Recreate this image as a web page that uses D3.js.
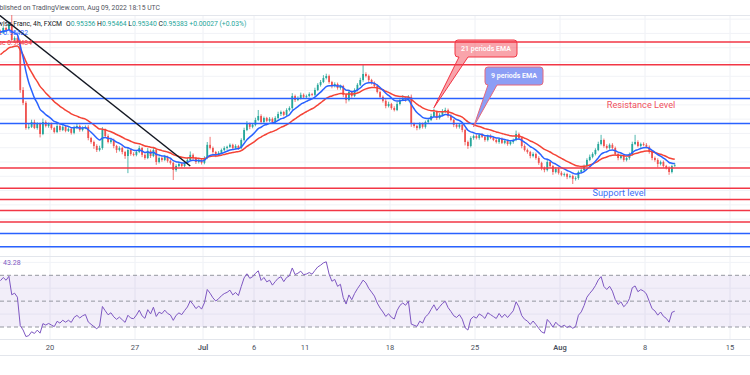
<!DOCTYPE html>
<html>
<head>
<meta charset="utf-8">
<script src="https://cdn.jsdelivr.net/npm/d3@7"></script>
<style>
  body { margin: 0; background: #fff; }
  svg { display: block; font-family: Roboto, 'Liberation Sans', sans-serif; }
</style>
</head>
<body>
<svg id="chart" width="750" height="375"></svg>
<script>
// USD/CHF 4h, FXCM, 15 Jun - 9 Aug 2022 (six 4h bars per trading day)
const tradingDays = [
  '2022-06-15', '2022-06-16', '2022-06-17',
  '2022-06-20', '2022-06-21', '2022-06-22', '2022-06-23', '2022-06-24',
  '2022-06-27', '2022-06-28', '2022-06-29', '2022-06-30', '2022-07-01',
  '2022-07-04', '2022-07-05', '2022-07-06', '2022-07-07', '2022-07-08',
  '2022-07-11', '2022-07-12', '2022-07-13', '2022-07-14', '2022-07-15',
  '2022-07-18', '2022-07-19', '2022-07-20', '2022-07-21', '2022-07-22',
  '2022-07-25', '2022-07-26', '2022-07-27', '2022-07-28', '2022-07-29',
  '2022-08-01', '2022-08-02', '2022-08-03', '2022-08-04', '2022-08-05',
  '2022-08-08', '2022-08-09', '2022-08-10', '2022-08-11', '2022-08-12',
  '2022-08-15', '2022-08-16'
]

const tickDays = ['2022-06-20', '2022-06-27', '2022-07-01', '2022-07-06', '2022-07-11',
  '2022-07-18', '2022-07-25', '2022-08-01', '2022-08-08', '2022-08-15']
const tickLabels = ['20', '27', 'Jul', '6', '11', '18', '25', 'Aug', '8', '15']

const firstOpen = 1.0005
const closes = [
  1.0002, 1.0019, 1.0012, 1.0033, 0.9977, 0.9984, // Jun 15
  0.9970, 0.9802, 0.9757, 0.9669, 0.9673, 0.9690, // Jun 16
  0.9669, 0.9683, 0.9648, 0.9690, 0.9676, 0.9683, // Jun 17
  0.9669, 0.9655, 0.9676, 0.9662, 0.9673, 0.9659, // Jun 20
  0.9666, 0.9652, 0.9669, 0.9676, 0.9662, 0.9669, // Jun 21
  0.9673, 0.9634, 0.9620, 0.9606, 0.9592, 0.9599, // Jun 22
  0.9662, 0.9641, 0.9620, 0.9627, 0.9606, 0.9592, // Jun 23
  0.9599, 0.9585, 0.9571, 0.9592, 0.9578, 0.9575, // Jun 24
  0.9585, 0.9599, 0.9575, 0.9564, 0.9589, 0.9571, // Jun 27
  0.9592, 0.9550, 0.9564, 0.9557, 0.9568, 0.9554, // Jun 28
  0.9547, 0.9522, 0.9536, 0.9543, 0.9536, 0.9547, // Jun 29
  0.9557, 0.9575, 0.9564, 0.9550, 0.9557, 0.9547, // Jun 30
  0.9564, 0.9610, 0.9599, 0.9585, 0.9575, 0.9582, // Jul 1
  0.9592, 0.9599, 0.9603, 0.9610, 0.9599, 0.9606, // Jul 4
  0.9599, 0.9627, 0.9662, 0.9683, 0.9673, 0.9680, // Jul 5
  0.9697, 0.9711, 0.9690, 0.9704, 0.9694, 0.9701, // Jul 6
  0.9690, 0.9704, 0.9718, 0.9725, 0.9715, 0.9732, // Jul 7
  0.9739, 0.9781, 0.9767, 0.9774, 0.9785, 0.9778, // Jul 8
  0.9781, 0.9788, 0.9785, 0.9802, 0.9820, 0.9830, // Jul 11
  0.9844, 0.9851, 0.9830, 0.9816, 0.9823, 0.9809, // Jul 12
  0.9816, 0.9785, 0.9767, 0.9795, 0.9781, 0.9802, // Jul 13
  0.9820, 0.9837, 0.9858, 0.9851, 0.9837, 0.9827, // Jul 14
  0.9816, 0.9795, 0.9778, 0.9764, 0.9746, 0.9753, // Jul 15
  0.9739, 0.9732, 0.9753, 0.9767, 0.9774, 0.9767, // Jul 18
  0.9778, 0.9683, 0.9676, 0.9669, 0.9683, 0.9673, // Jul 19
  0.9690, 0.9697, 0.9711, 0.9725, 0.9704, 0.9715, // Jul 20
  0.9725, 0.9732, 0.9711, 0.9697, 0.9680, 0.9673, // Jul 21
  0.9680, 0.9662, 0.9620, 0.9606, 0.9634, 0.9641, // Jul 22
  0.9634, 0.9645, 0.9638, 0.9627, 0.9641, 0.9634, // Jul 25
  0.9627, 0.9620, 0.9631, 0.9617, 0.9624, 0.9613, // Jul 26
  0.9620, 0.9627, 0.9648, 0.9634, 0.9606, 0.9592, // Jul 27
  0.9585, 0.9571, 0.9578, 0.9564, 0.9547, 0.9529, // Jul 28
  0.9522, 0.9550, 0.9536, 0.9515, 0.9526, 0.9512, // Jul 29
  0.9505, 0.9508, 0.9498, 0.9501, 0.9491, 0.9494, // Aug 1
  0.9515, 0.9522, 0.9536, 0.9557, 0.9568, 0.9578, // Aug 2
  0.9592, 0.9613, 0.9627, 0.9606, 0.9599, 0.9610, // Aug 3
  0.9599, 0.9578, 0.9564, 0.9571, 0.9557, 0.9564, // Aug 4
  0.9578, 0.9613, 0.9620, 0.9606, 0.9613, 0.9610, // Aug 5
  0.9603, 0.9585, 0.9564, 0.9557, 0.9543, 0.9550, // Aug 8
  0.9536, 0.9529, 0.9515, 0.95356, 0.95383 // Aug 9
]

// wick length beyond the body, in pips
const upperWick = [
  8, 6, 5, 10, 32, 6, 6, 8, 10, 6, 12, 8, 8, 6, 5, 12, 6, 5,
  5, 4, 7, 5, 6, 4, 6, 4, 8, 10, 5, 6, 5, 6, 4, 5, 6, 8,
  10, 5, 6, 8, 5, 4, 6, 5, 4, 8, 5, 6, 6, 8, 4, 5, 10, 5,
  8, 4, 6, 5, 7, 4, 5, 4, 6, 8, 5, 7, 8, 12, 5, 4, 6, 4,
  6, 10, 28, 5, 4, 6, 5, 6, 4, 5, 4, 6, 4, 6, 8, 10, 5, 6,
  8, 21, 6, 5, 4, 6, 5, 6, 8, 5, 4, 6, 6, 10, 5, 6, 8, 5,
  5, 6, 4, 8, 6, 7, 10, 8, 5, 4, 6, 5, 5, 4, 6, 8, 5, 6,
  6, 8, 32, 6, 5, 4, 5, 6, 4, 5, 6, 8, 4, 6, 8, 6, 10, 5,
  6, 8, 5, 4, 6, 5, 5, 6, 8, 12, 5, 6, 10, 8, 5, 6, 4, 5,
  5, 6, 4, 5, 6, 5, 6, 5, 6, 4, 5, 6, 5, 6, 4, 5, 6, 4,
  6, 5, 12, 5, 4, 6, 5, 4, 6, 5, 6, 4, 5, 8, 6, 4, 6, 5,
  6, 5, 4, 6, 5, 6, 5, 6, 5, 6, 8, 6, 6, 8, 18, 5, 6, 5,
  6, 5, 4, 6, 5, 4, 5, 8, 25, 6, 5, 6, 6, 5, 4, 5, 6, 5,
  5, 4, 6, 5, 8
]
const lowerWick = [
  5, 4, 6, 3, 5, 8, 4, 10, 8, 6, 5, 4, 4, 6, 12, 4, 5, 6,
  6, 5, 4, 6, 4, 5, 4, 6, 5, 4, 6, 5, 4, 8, 6, 10, 7, 5,
  6, 7, 5, 6, 8, 10, 5, 8, 10, 60, 6, 5, 5, 4, 8, 6, 4, 7,
  4, 10, 5, 6, 4, 6, 6, 35, 6, 4, 5, 4, 5, 4, 6, 7, 5, 6,
  5, 4, 5, 6, 8, 4, 4, 5, 6, 4, 5, 4, 6, 4, 5, 4, 8, 5,
  5, 4, 8, 6, 5, 4, 6, 4, 5, 7, 5, 4, 5, 6, 7, 4, 5, 6,
  6, 4, 5, 5, 4, 6, 4, 5, 6, 8, 5, 6, 6, 8, 12, 5, 6, 4,
  5, 4, 6, 5, 7, 6, 6, 5, 7, 6, 8, 5, 6, 5, 4, 5, 4, 6,
  5, 10, 6, 8, 5, 6, 6, 5, 4, 5, 7, 5, 5, 4, 6, 5, 8, 6,
  6, 8, 12, 10, 5, 6, 5, 6, 4, 6, 5, 4, 4, 5, 6, 4, 5, 6,
  5, 6, 4, 6, 8, 5, 6, 8, 5, 6, 7, 8, 8, 5, 6, 10, 5, 6,
  5, 6, 8, 5, 18, 6, 6, 5, 4, 5, 4, 5, 5, 4, 5, 6, 5, 6,
  5, 6, 8, 5, 6, 5, 6, 5, 4, 5, 6, 5, 5, 6, 8, 6, 12, 5,
  6, 5, 10, 5, 2
]

// indicator state carried in from bars before the visible range
const ema9Seed = 1.0005
const ema21Seed = 0.9918
const rsiSeedGain = 0.0012
const rsiSeedLoss = 0.0006

const redLevels = [0.9970, 0.9890, 0.9529, 0.9458, 0.9419, 0.9380, 0.9340]
const blueLevels = [0.9772, 0.9685, 0.9300, 0.9253]

// trend line: [bar index, price]
const trendLine = [[0, 1.0061], [67, 0.9536]]

const rsiBands = [70, 50, 30]
const rsiGrid = [40, 60, 80]
const rsiLast = '43.28'

const pip = 0.0001
const barsPerDay = 6

const svg = d3.select('#chart')

const x = d3.scaleBand()
  .domain(tradingDays)
  .range([-1, -1 + 17 * tradingDays.length])
const slot = x.bandwidth() / barsPerDay
const y = d3.scaleLinear().domain([0.9242, 1.0117]).range([250, 0])
const yRsi = d3.scaleLinear().domain([30, 70]).range([327, 275.3])

/**
 * Horizontal centre of a bar.
 *
 * @param {number} i The bar index
 * @returns {number} The x position
 */
function barX (i) {
  return x(tradingDays[Math.floor(i / barsPerDay)]) + (i % barsPerDay + 0.5) * slot
}

/**
 * Exponential moving average of the closes.
 *
 * @param {number[]} values The closes
 * @param {number} period The EMA length
 * @param {number} seed The EMA value before the first bar
 * @returns {number[]} The EMA values
 */
function ema (values, period, seed) {
  const k = 2 / (period + 1)
  let prev = seed
  return values.map((v) => (prev = prev + k * (v - prev)))
}

/**
 * Wilder RSI(14) of the closes.
 *
 * @param {number[]} values The closes
 * @returns {number[]} The RSI values
 */
function rsi (values) {
  let gain = rsiSeedGain
  let loss = rsiSeedLoss
  return values.map((v, i) => {
    const ch = v - (i ? values[i - 1] : firstOpen)
    gain = (gain * 13 + Math.max(ch, 0)) / 14
    loss = (loss * 13 + Math.max(-ch, 0)) / 14
    return 100 - 100 / (1 + gain / loss)
  })
}

const bars = closes.map((c, i) => {
  const o = i ? closes[i - 1] : firstOpen
  return {
    i: i,
    o: o,
    c: c,
    h: Math.max(o, c) + upperWick[i] * pip,
    l: Math.min(o, c) - lowerWick[i] * pip
  }
})

svg.append('defs').append('clipPath').attr('id', 'main-clip')
  .append('rect').attr('x', 0).attr('y', 15).attr('width', 750).attr('height', 241)

// grid
const grid = svg.append('g')
grid.selectAll('line.v')
  .data(tickDays)
  .enter()
  .append('line')
  .attr('x1', (d) => x(d)).attr('x2', (d) => x(d))
  .attr('y1', 15).attr('y2', 339)
  .attr('stroke', '#eef0f5')
grid.selectAll('line.h')
  .data(y.ticks(18).filter((p) => y(p) > 16 && y(p) < 255))
  .enter()
  .append('line')
  .attr('x1', 0).attr('x2', 750)
  .attr('y1', (d) => y(d)).attr('y2', (d) => y(d))
  .attr('stroke', '#f1f3f7')
grid.selectAll('line.r')
  .data(rsiGrid)
  .enter()
  .append('line')
  .attr('x1', 0).attr('x2', 750)
  .attr('y1', (d) => yRsi(d)).attr('y2', (d) => yRsi(d))
  .attr('stroke', '#f1f3f7')

// pane separators
const seps = [15, 256, 339, 355]
svg.selectAll('line.sep')
  .data(seps)
  .enter()
  .append('line')
  .attr('x1', 0).attr('x2', 750)
  .attr('y1', (d) => d + 0.5).attr('y2', (d) => d + 0.5)
  .attr('stroke', '#e3e6ec')

// main pane
const main = svg.append('g').attr('clip-path', 'url(#main-clip)')

const candle = main.selectAll('g.bar')
  .data(bars)
  .enter()
  .append('g')
  .attr('fill', (d) => d.c >= d.o ? '#26a69a' : '#ef5350')
  .attr('stroke', (d) => d.c >= d.o ? '#26a69a' : '#ef5350')

candle.append('line')
  .attr('x1', (d) => barX(d.i)).attr('x2', (d) => barX(d.i))
  .attr('y1', (d) => y(d.h)).attr('y2', (d) => y(d.l))
  .attr('stroke-width', 0.8)

candle.append('rect')
  .attr('x', (d) => barX(d.i) - 0.9)
  .attr('width', 1.8)
  .attr('y', (d) => y(Math.max(d.o, d.c)))
  .attr('height', (d) => Math.max(0.8, Math.abs(y(d.o) - y(d.c))))
  .attr('stroke', 'none')

const line = d3.line()
  .x((d, i) => barX(i))
  .y((d) => y(d))
  .curve(d3.curveMonotoneX)

main.append('path')
  .datum(ema(closes, 21, ema21Seed))
  .attr('d', line)
  .attr('fill', 'none')
  .attr('stroke', '#f44336')
  .attr('stroke-width', 1.5)

main.append('path')
  .datum(ema(closes, 9, ema9Seed))
  .attr('d', line)
  .attr('fill', 'none')
  .attr('stroke', '#2962ff')
  .attr('stroke-width', 1.5)

main.selectAll('line.red')
  .data(redLevels)
  .enter()
  .append('line')
  .attr('x1', 0).attr('x2', 750)
  .attr('y1', (d) => y(d)).attr('y2', (d) => y(d))
  .attr('stroke', '#f23645')
  .attr('stroke-width', 1.5)

main.selectAll('line.blue')
  .data(blueLevels)
  .enter()
  .append('line')
  .attr('x1', 0).attr('x2', 750)
  .attr('y1', (d) => y(d)).attr('y2', (d) => y(d))
  .attr('stroke', '#2962ff')
  .attr('stroke-width', 1.5)

main.append('line')
  .attr('x1', barX(trendLine[0][0]) - 2).attr('y1', y(trendLine[0][1]) - 1.6)
  .attr('x2', barX(trendLine[1][0])).attr('y2', y(trendLine[1][1]))
  .attr('stroke', '#131722')
  .attr('stroke-width', 1.5)

/**
 * Draws a TradingView style callout pointing at a bar.
 *
 * @param {object} box The box corners
 * @param {number[]} tail The x span where the tail leaves the box
 * @param {number[]} tip The [bar index, price] the tail points at
 * @param {string} text The label
 * @param {string} fill The box fill
 * @param {string} stroke The outline colour
 */
function drawCallout (box, tail, tip, text, fill, stroke) {
  const r = 3
  const tx = barX(tip[0])
  const ty = y(tip[1])
  const p = 'M' + (box.x0 + r) + ',' + box.y0 +
    'H' + (box.x1 - r) + 'Q' + box.x1 + ',' + box.y0 + ' ' + box.x1 + ',' + (box.y0 + r) +
    'V' + (box.y1 - r) + 'Q' + box.x1 + ',' + box.y1 + ' ' + (box.x1 - r) + ',' + box.y1 +
    'H' + tail[1] + 'L' + tx + ',' + ty + 'L' + tail[0] + ',' + box.y1 +
    'H' + (box.x0 + r) + 'Q' + box.x0 + ',' + box.y1 + ' ' + box.x0 + ',' + (box.y1 - r) +
    'V' + (box.y0 + r) + 'Q' + box.x0 + ',' + box.y0 + ' ' + (box.x0 + r) + ',' + box.y0 + 'Z'
  svg.append('path')
    .attr('d', p)
    .attr('fill', fill)
    .attr('stroke', stroke)
    .attr('stroke-width', 1)
  svg.append('text')
    .attr('x', (box.x0 + box.x1) / 2)
    .attr('y', (box.y0 + box.y1) / 2)
    .attr('text-anchor', 'middle')
    .attr('dominant-baseline', 'central')
    .attr('font-size', 7)
    .attr('font-weight', 600)
    .attr('fill', '#fff')
    .text(text)
}

drawCallout({ x0: 455, y0: 40, x1: 517, y1: 57 }, [459, 468], [153, 0.9740],
  '21 periods EMA', 'rgba(242, 54, 69, 0.45)', '#f23645')
drawCallout({ x0: 485, y0: 67, x1: 543, y1: 85 }, [488, 497], [167, 0.9673],
  '9 periods EMA', '#8c9ef5', '#e5687c')

svg.append('text')
  .attr('x', barX(214)).attr('y', y(0.9750))
  .attr('dominant-baseline', 'central')
  .attr('font-size', 9.2)
  .attr('fill', '#f0515e')
  .text('Resistance Level')

svg.append('text')
  .attr('x', barX(209)).attr('y', y(0.9445))
  .attr('dominant-baseline', 'central')
  .attr('font-size', 9.2)
  .attr('fill', '#3d6ff5')
  .text('Support level')

// RSI pane
svg.append('rect')
  .attr('x', 0).attr('width', 750)
  .attr('y', yRsi(70)).attr('height', yRsi(30) - yRsi(70))
  .attr('fill', 'rgba(126, 87, 194, 0.1)')

svg.selectAll('line.band')
  .data(rsiBands)
  .enter()
  .append('line')
  .attr('x1', 0).attr('x2', 750)
  .attr('y1', (d) => yRsi(d)).attr('y2', (d) => yRsi(d))
  .attr('stroke', '#9598a1')
  .attr('stroke-dasharray', '4,3')

svg.append('path')
  .datum(rsi(closes))
  .attr('d', d3.line().x((d, i) => barX(i)).y((d) => yRsi(d)))
  .attr('fill', 'none')
  .attr('stroke', '#7e57c2')
  .attr('stroke-width', 1)

svg.append('text')
  .attr('x', 3).attr('y', 263)
  .attr('dominant-baseline', 'central')
  .attr('font-size', 7)
  .attr('fill', '#7e57c2')
  .text(rsiLast)

// time axis
svg.selectAll('text.tick')
  .data(tickDays)
  .enter()
  .append('text')
  .attr('x', (d) => x(d))
  .attr('y', 347)
  .attr('text-anchor', 'middle')
  .attr('dominant-baseline', 'central')
  .attr('font-size', 7.5)
  .attr('font-weight', (d, i) => isNaN(+tickLabels[i]) ? 600 : 400)
  .attr('fill', '#4c525e')
  .text((d, i) => tickLabels[i])

// header
svg.append('text')
  .attr('x', 160).attr('y', 8)
  .attr('text-anchor', 'end')
  .attr('dominant-baseline', 'central')
  .attr('font-size', 6.8)
  .attr('fill', '#50535e')
  .text('Published on TradingView.com, Aug 09, 2022 18:15 UTC')

svg.append('text')
  .attr('x', 62).attr('y', 24)
  .attr('text-anchor', 'end')
  .attr('dominant-baseline', 'central')
  .attr('font-size', 6.8)
  .attr('fill', '#131722')
  .text('U.S. Dollar / Swiss Franc, 4h, FXCM')

const ohlc = [['O', '0.95356'], ['H', '0.95464'], ['L', '0.95340'], ['C', '0.95383'], ['', '+0.00027 (+0.03%)']]
const legend = svg.append('text')
  .attr('x', 66).attr('y', 24)
  .attr('dominant-baseline', 'central')
  .attr('font-size', 6.8)
ohlc.forEach((d, i) => {
  legend.append('tspan').attr('fill', '#131722').text((i ? '  ' : '') + d[0])
  legend.append('tspan').attr('fill', '#26a69a').text(d[1])
})

svg.append('text')
  .attr('x', 28).attr('y', 33)
  .attr('text-anchor', 'end')
  .attr('dominant-baseline', 'central')
  .attr('font-size', 6.8)
  .attr('fill', '#2962ff')
  .text('EMA 9 close 0.95432')

svg.append('text')
  .attr('x', 32).attr('y', 42.5)
  .attr('text-anchor', 'end')
  .attr('dominant-baseline', 'central')
  .attr('font-size', 6.8)
  .attr('fill', '#f23645')
  .text('EMA 21 close 0.95484')
</script>
</body>
</html>
